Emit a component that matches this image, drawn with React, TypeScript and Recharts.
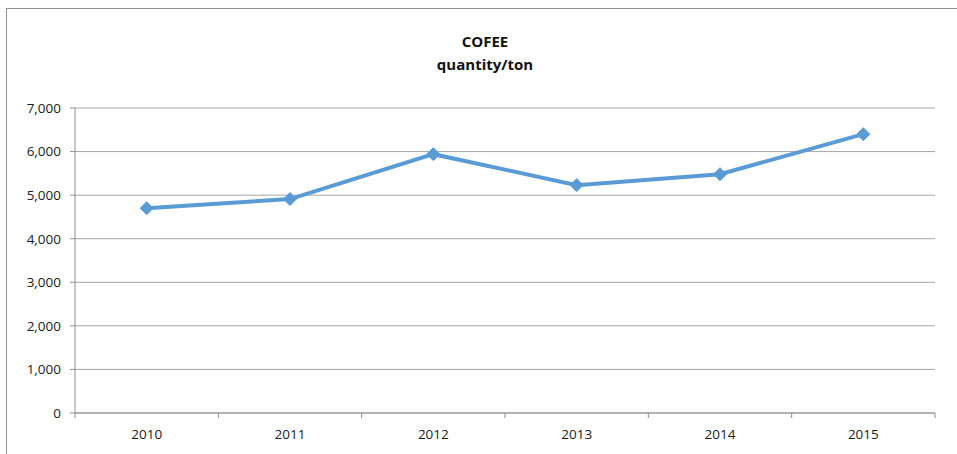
import { LineChart, Line, XAxis, YAxis, CartesianGrid } from "recharts";

const YEARS = ["2010", "2011", "2012", "2013", "2014", "2015"];
const QUANTITY = [4700, 4910, 5940, 5230, 5480, 6400];
const Y_TICKS = [0, 1000, 2000, 3000, 4000, 5000, 6000, 7000];

const W = 957;
const H = 454;
const X_AXIS_H = 30;
const MARGIN = { top: 108, right: 22, bottom: 41 - X_AXIS_H, left: 15 };
const Y_AXIS_W = 60;
const FONT = "'Open Sans', sans-serif";
const AXIS_GRAY = "#8f8f8f";
const LINE_BLUE = "#5b9bd5";

const data = YEARS.map((year, i) => ({ year, value: QUANTITY[i] }));

const halfBand = (W - MARGIN.left - Y_AXIS_W - MARGIN.right) / YEARS.length / 2;

function YearTick(props: any) {
  const { x, y, payload, index } = props;
  const last = index === YEARS.length - 1;
  return (
    <g>
      <line x1={x - halfBand} x2={x - halfBand} y1={y - 5} y2={y} stroke={AXIS_GRAY} />
      {last && <line x1={x + halfBand} x2={x + halfBand} y1={y - 5} y2={y} stroke={AXIS_GRAY} />}
      <text x={x} y={y + 21} textAnchor="middle" fontSize={13.5} fontFamily={FONT} fill="#1a1a1a">
        {payload.value}
      </text>
    </g>
  );
}

function Diamond(props: any) {
  const { cx, cy } = props;
  if (cx == null || cy == null) return null;
  const r = 6.5;
  return (
    <polygon
      points={`${cx},${cy - r} ${cx + r},${cy} ${cx},${cy + r} ${cx - r},${cy}`}
      fill={LINE_BLUE}
      stroke={LINE_BLUE}
    />
  );
}

export default function App() {
  return (
    <div style={{ position: "absolute", left: 0, top: 0, width: W, height: H, background: "#fff", overflow: "hidden" }}>
      <div style={{ position: "absolute", left: 0, top: 0 }}>
        <LineChart width={W} height={H} data={data} margin={MARGIN}>
          <CartesianGrid vertical={false} stroke="#a6a6a6" />
          <XAxis
            dataKey="year"
            height={X_AXIS_H}
            padding={{ left: halfBand, right: halfBand }}
            axisLine={{ stroke: AXIS_GRAY }}
            tickLine={false}
            tickSize={5}
            tickMargin={0}
            interval={0}
            tick={<YearTick />}
          />
          <YAxis
            width={Y_AXIS_W}
            domain={[0, 7000]}
            ticks={Y_TICKS}
            interval={0}
            axisLine={{ stroke: AXIS_GRAY }}
            tickLine={{ stroke: AXIS_GRAY }}
            tickSize={5}
            tickMargin={9}
            tickFormatter={(v: number) => v.toLocaleString("en-US")}
            tick={{ fontSize: 13.5, fontFamily: FONT, fill: "#1a1a1a" }}
          />
          <Line
            type="linear"
            dataKey="value"
            stroke={LINE_BLUE}
            strokeWidth={4}
            dot={<Diamond />}
            activeDot={false}
            isAnimationActive={false}
          />
        </LineChart>
      </div>
      <div
        style={{
          position: "absolute",
          left: 6,
          top: 8,
          width: W + 10,
          height: H,
          borderTop: `1px solid ${AXIS_GRAY}`,
          borderLeft: `1px solid ${AXIS_GRAY}`,
          pointerEvents: "none",
        }}
      />
      <div
        style={{
          position: "absolute",
          left: 385,
          width: 200,
          top: 30,
          textAlign: "center",
          fontFamily: FONT,
          fontWeight: 700,
          fontSize: 15,
          lineHeight: "23px",
          color: "#111",
        }}
      >
        <div>COFEE</div>
        <div>quantity/ton</div>
      </div>
    </div>
  );
}
